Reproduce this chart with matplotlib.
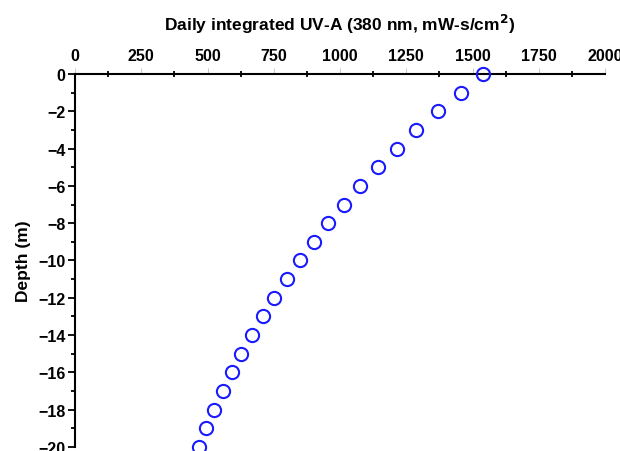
import matplotlib.pyplot as plt
import numpy as np
from matplotlib.ticker import MultipleLocator

plt.rcParams['font.family'] = ['Liberation Sans', 'DejaVu Sans']

# depth (m) and daily integrated UV-A dose
depth = [0, -1, -2, -3, -4, -5, -6, -7, -8, -9, -10,
         -11, -12, -13, -14, -15, -16, -17, -18, -19, -20]
uva = [1540, 1455, 1368, 1288, 1214, 1142, 1077, 1015, 956, 901, 848,
       799, 751, 709, 668, 627, 592, 558, 525, 495, 468]

fig = plt.figure(figsize=(6.2, 4.52), dpi=100)
ax = fig.add_axes([0.121, 0.009, 0.855, 0.825])

ax.plot(uva, depth, 'o', markersize=9.5, markerfacecolor='none',
        markeredgecolor='#1a1aff', markeredgewidth=1.5, clip_on=False, zorder=5)

ax.set_xlim(0, 2000)
ax.set_ylim(-20, 0)

# x axis on top, only left and top spines
ax.xaxis.set_ticks_position('top')
ax.xaxis.set_label_position('top')
ax.spines['right'].set_visible(False)
ax.spines['bottom'].set_visible(False)
ax.spines['top'].set_linewidth(1.5)
ax.spines['left'].set_linewidth(1.5)

ax.xaxis.set_major_locator(MultipleLocator(250))
ax.xaxis.set_minor_locator(MultipleLocator(125))
ax.yaxis.set_major_locator(MultipleLocator(2))
ax.yaxis.set_minor_locator(MultipleLocator(1))

ax.tick_params(axis='x', which='major', direction='out', length=4, width=0.6,
               color='#bbbbbb', labelsize=11.5, pad=4)
ax.tick_params(axis='x', which='minor', direction='inout', length=5, width=1.3,
               color='black')
ax.tick_params(axis='y', which='major', direction='out', length=5, width=1.3,
               labelsize=11.5, pad=2)
ax.tick_params(axis='y', which='minor', direction='out', length=3, width=1.3)

for lbl in ax.get_xticklabels() + ax.get_yticklabels():
    lbl.set_fontweight('bold')

ax.set_xlabel('Daily integrated UV-A (380 nm, mW-s/cm$^\\mathbf{2}$)',
              fontsize=12.5, fontweight='bold', labelpad=13)
ax.set_ylabel('Depth (m)', fontsize=12.5, fontweight='bold', labelpad=5)

fig.savefig('out.png', dpi=100)
